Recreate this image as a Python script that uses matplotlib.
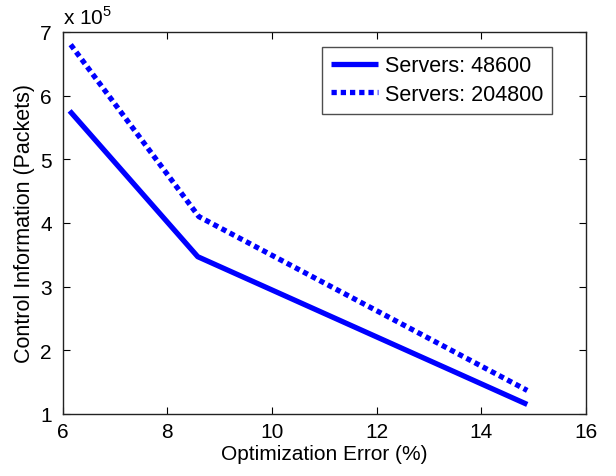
import matplotlib
matplotlib.use("Agg")
import matplotlib.pyplot as plt
from matplotlib.ticker import FuncFormatter

plt.rcParams['font.family'] = ['Liberation Sans', 'DejaVu Sans']
plt.rcParams['mathtext.fontset'] = 'custom'
plt.rcParams['mathtext.rm'] = 'Liberation Sans'

# data
err_48600 = [6.13, 8.58, 14.88]
pkt_48600 = [5.76e5, 3.47e5, 1.15e5]
err_204800 = [6.15, 8.6, 14.88]
pkt_204800 = [6.80e5, 4.10e5, 1.37e5]
labels = ["Servers: 48600", "Servers: 204800"]

fig = plt.figure(figsize=(6.16, 4.77), dpi=100)
ax = fig.add_axes([0.102, 0.130, 0.849, 0.801])

ax.plot(err_48600, pkt_48600, color='#0000ff', lw=3.8, solid_capstyle='butt',
        label=labels[0])
ax.plot(err_204800, pkt_204800, color='#0000ff', lw=3.8, linestyle=(0, (1, 0.75)),
        dash_capstyle='butt', label=labels[1])

ax.set_xlim(6, 16)
ax.set_ylim(1e5, 7e5)
ax.set_xticks(range(6, 17, 2))
ax.set_yticks([i * 1e5 for i in range(1, 8)])
ax.yaxis.set_major_formatter(FuncFormatter(lambda v, p: f"{v / 1e5:g}"))
ax.tick_params(direction='in', top=True, right=True, length=5, width=0.8,
               labelsize=15)
ax.tick_params(axis='x', pad=6)
ax.tick_params(axis='y', pad=8)
for s in ax.spines.values():
    s.set_linewidth(1.0)
    s.set_color('#222222')

ax.set_xlabel("Optimization Error (%)", fontsize=15, labelpad=2)
ax.set_ylabel("Control Information (Packets)", fontsize=15.5, labelpad=4)
ax.text(0.0, 1.01, r"x 10$^{5}$", transform=ax.transAxes, fontsize=15,
        ha='left', va='bottom')

leg = ax.legend(loc='upper right', bbox_to_anchor=(0.935, 0.961), fontsize=15.5,
                frameon=True, fancybox=False, edgecolor='#222222',
                handlelength=2.2, handletextpad=0.3, borderpad=0.4,
                labelspacing=0.35, borderaxespad=0)
leg.get_frame().set_linewidth(1.0)

fig.savefig("out.png", dpi=100)
